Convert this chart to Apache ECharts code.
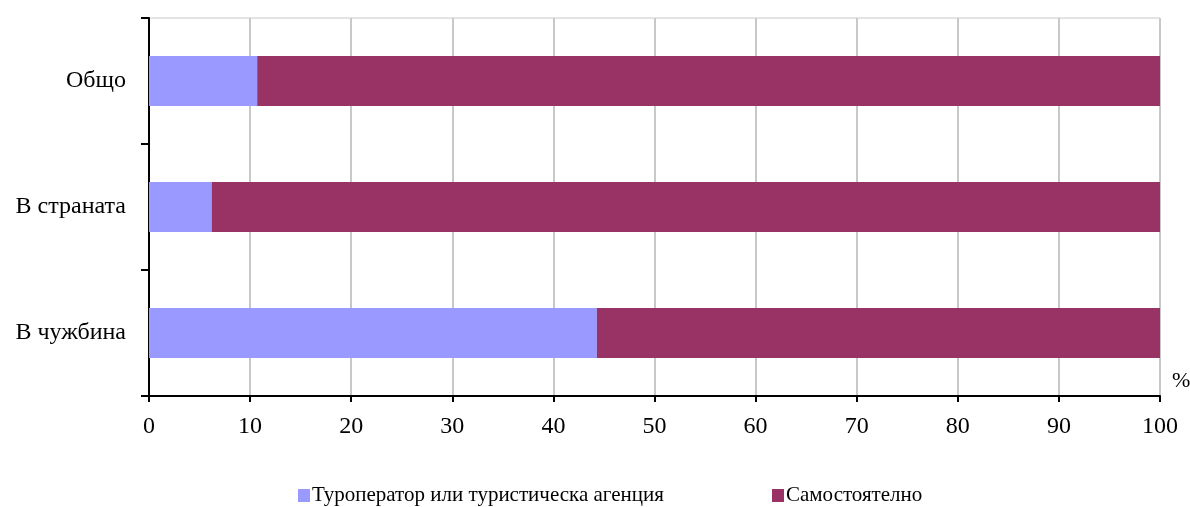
<!DOCTYPE html>
<html><head><meta charset="utf-8">
<script src="https://cdn.jsdelivr.net/npm/echarts@6/dist/echarts.min.js"></script>
<style>html,body{margin:0;padding:0;background:#fff}#c{width:1190px;height:507px}</style>
</head><body><div id="c"></div>
<script>
const categories = ['В чужбина', 'В страната', 'Общо'];
const seriesNames = ['Туроператор или туристическа агенция', 'Самостоятелно'];
const agency = [44.3, 6.2, 10.7];
const independent = [55.7, 93.8, 89.3];
const xTicks = [0, 10, 20, 30, 40, 50, 60, 70, 80, 90, 100];

const font = 'Liberation Serif';
const chart = echarts.init(document.getElementById('c'), null, {renderer: 'canvas'});
chart.setOption({
  animation: false,
  textStyle: {fontFamily: font},
  grid: {left: 149, right: 30, top: 18, bottom: 111, show: true, borderColor: '#c8c8c8', borderWidth: 1},
  legend: [
    {data: [seriesNames[0]], left: 298, top: 485, padding: 0, itemWidth: 12, itemHeight: 13, icon: 'rect', itemGap: 0,
     textStyle: {fontFamily: font, fontSize: 21, color: '#000', padding: [0,0,0,-3]}},
    {data: [seriesNames[1]], left: 772, top: 485, padding: 0, itemWidth: 12, itemHeight: 13, icon: 'rect',
     textStyle: {fontFamily: font, fontSize: 21, color: '#000', padding: [0,0,0,-3]}}
  ],
  xAxis: {
    type: 'value', min: 0, max: 100, interval: 10,
    axisLine: {show: true, lineStyle: {color: '#000', width: 2}},
    axisTick: {show: true, length: 6, lineStyle: {color: '#000', width: 2}},
    axisLabel: {fontFamily: font, fontSize: 24, color: '#000', margin: 19,
      formatter: v => xTicks.includes(v) ? String(v) : ''},
    splitLine: {show: true, lineStyle: {color: '#c8c8c8', width: 2}}
  },
  yAxis: {
    type: 'category', data: categories,
    axisLine: {show: true, lineStyle: {color: '#000', width: 2}},
    axisTick: {show: true, length: 8, lineStyle: {color: '#000', width: 2}},
    axisLabel: {fontFamily: font, fontSize: 24, color: '#000', margin: 23},
    splitLine: {show: false}
  },
  graphic: [{type: 'text', left: 1172, top: 370, style: {text: '%', fontFamily: font, fontSize: 22, fill: '#000'}}],
  series: [
    {name: seriesNames[0], type: 'bar', stack: 's', data: agency, barWidth: 50, itemStyle: {color: '#9999ff'}},
    {name: seriesNames[1], type: 'bar', stack: 's', data: independent, barWidth: 50, itemStyle: {color: '#993366'}}
  ]
});
</script></body></html>
